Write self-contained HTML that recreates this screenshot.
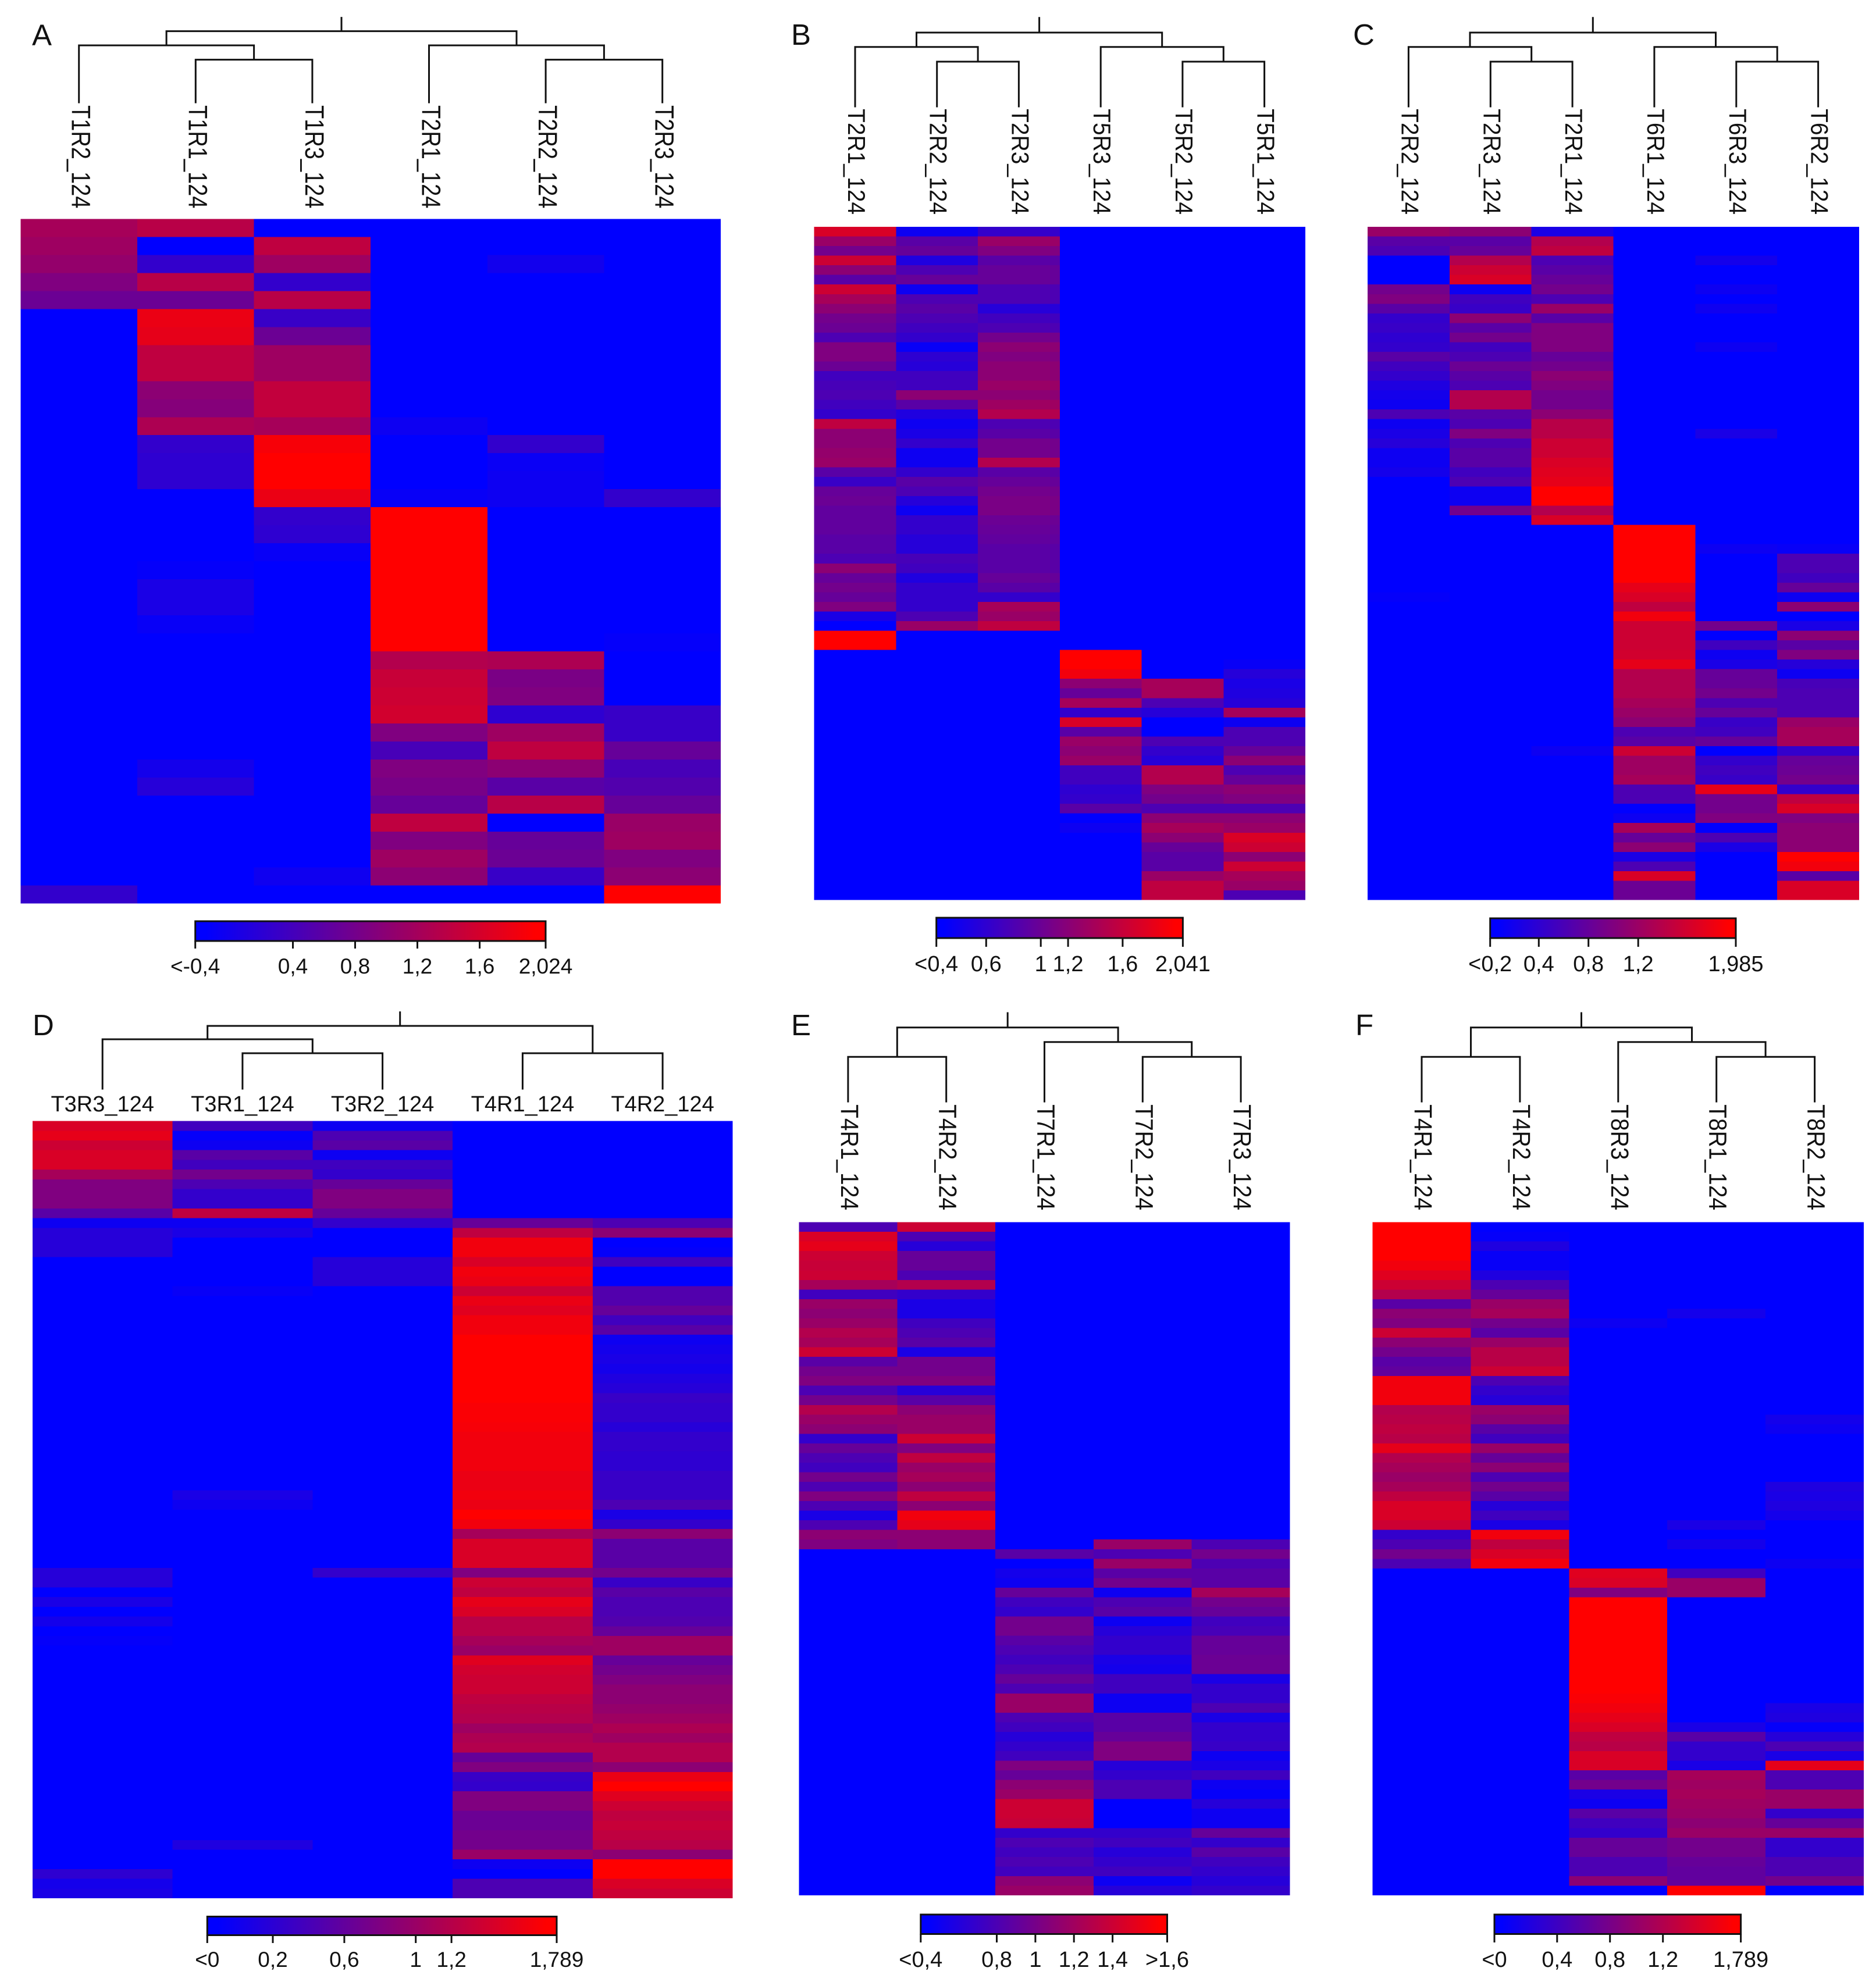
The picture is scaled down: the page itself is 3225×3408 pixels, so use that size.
<!DOCTYPE html>
<html lang="en">
<head>
<meta charset="utf-8">
<title>Heatmaps with dendrograms</title>
<style>
html,body{margin:0;padding:0;background:#fff;}
svg{display:block;}
text{font-family:"Liberation Sans",Arial,sans-serif;fill:#111;}
</style>
</head>
<body>
<svg id="figure" xmlns="http://www.w3.org/2000/svg" width="3225" height="3408" viewBox="0 0 3225 3408">
<defs>
<linearGradient id="blueRed" x1="0" x2="1" y1="0" y2="0">
<stop offset="0.03" stop-color="#0000ff"/>
<stop offset="0.97" stop-color="#ff0000"/>
</linearGradient>
</defs>
<rect x="0" y="0" width="3225" height="3408" fill="#ffffff"/>
</svg>
<script>
// Values are expression levels rescaled to percent of each panel's colour scale.
// ---------- Panel A ----------
const aColumns = ["T1R2_124","T1R1_124","T1R3_124","T2R1_124","T2R2_124","T2R3_124"];
const aT1R2 = [65,62,58,50,42,0,0,0,0,0,
 0,0,0,0,0,0,0,0,0,0,
 0,0,0,0,0,0,0,0,0,0,
 0,0,0,0,0,0,0,20];
const aT1R1 = [72,0,20,72,42,92,90,75,75,55,
 52,68,20,18,18,0,0,0,0,2,
 10,10,3,0,0,0,0,0,0,0,
 8,15,0,0,0,0,0,0];
const aT1R3 = [0,75,62,20,72,22,42,62,62,76,
 76,65,97,100,100,92,20,18,3,0,
 0,0,0,0,0,0,0,0,0,0,
 0,0,0,0,0,0,6,0];
const aT2R1 = [0,0,0,0,0,0,0,0,0,0,
 0,5,0,0,0,3,100,100,100,100,
 100,100,100,100,70,78,80,82,50,28,
 50,47,40,75,50,62,55,0];
const aT2R2 = [0,0,7,0,0,0,0,0,0,0,
 0,0,20,4,5,5,0,0,0,0,
 0,0,0,0,68,48,50,18,62,75,
 55,35,72,0,40,42,22,0];
const aT2R3 = [0,0,0,0,0,0,0,0,0,0,
 0,0,0,0,0,20,0,0,0,0,
 0,0,0,2,0,0,0,22,22,40,
 28,32,40,60,62,50,55,100];
const aTickValues = [-0.227,0.4,0.8,1.2,1.6,2.024];
const aTickLabels = ["<-0,4","0,4","0,8","1,2","1,6","2,024"];

// ---------- Panel B ----------
const bColumns = ["T2R1_124","T2R2_124","T2R3_124","T5R3_124","T5R2_124","T5R1_124"];
const bT2R1 = [85,60,45,80,55,35,80,65,55,45,
 42,30,50,50,42,25,28,30,25,20,
 75,55,55,58,60,35,22,40,42,38,
 38,38,35,35,30,55,40,45,40,50,
 10,0,100,100,0,0,0,0,0,0,
 0,0,0,0,0,0,0,0,0,0,
 0,0,0,0,0,0,0,0,0,0];
const bT2R2 = [5,35,40,12,30,40,5,30,35,30,
 25,20,3,18,15,25,25,55,35,12,
 5,10,20,5,5,20,35,30,15,5,
 20,20,15,15,28,25,12,20,20,20,
 30,60,0,0,0,0,0,0,0,0,
 0,0,0,0,0,0,0,0,0,0,
 0,0,0,0,0,0,0,0,0,0];
const bT2R3 = [20,60,50,35,40,40,30,30,15,25,
 30,45,55,50,55,55,60,55,62,70,
 30,35,45,45,70,35,40,45,48,48,
 42,40,38,35,35,35,40,35,20,65,
 60,75,0,0,0,0,0,0,0,0,
 0,0,0,0,0,0,0,0,0,0,
 0,0,0,0,0,0,0,0,0,0];
const bT5R3 = [0,0,0,0,0,0,0,0,0,0,
 0,0,0,0,0,0,0,0,0,0,
 0,0,0,0,0,0,0,0,0,0,
 0,0,0,0,0,0,0,0,0,0,
 0,0,0,0,100,100,95,55,40,65,
 20,85,35,60,55,60,25,25,18,20,
 35,0,5,0,0,0,0,0,0,0];
const bT5R2 = [0,0,0,0,0,0,0,0,0,0,
 0,0,0,0,0,0,0,0,0,0,
 0,0,0,0,0,0,0,0,0,0,
 0,0,0,0,0,0,0,0,0,0,
 0,0,0,0,0,0,0,65,65,30,
 15,0,0,30,20,15,70,70,50,45,
 30,55,65,55,40,35,35,60,75,75];
const bT5R1 = [0,0,0,0,0,0,0,0,0,0,
 0,0,0,0,0,0,0,0,0,0,
 0,0,0,0,0,0,0,0,0,0,
 0,0,0,0,0,0,0,0,0,0,
 0,0,0,0,0,3,15,10,12,15,
 65,5,30,30,40,55,30,40,55,50,
 30,55,60,85,80,55,80,65,60,30];
const bTickValues = [0.235,0.6,1,1.2,1.6,2.041];
const bTickLabels = ["<0,4","0,6","1","1,2","1,6","2,041"];

// ---------- Panel C ----------
const cColumns = ["T2R2_124","T2R3_124","T2R1_124","T6R1_124","T6R3_124","T6R2_124"];
const cT2R2 = [60,35,30,0,0,0,45,50,35,20,
 22,18,20,35,25,20,12,8,5,30,
 5,10,15,5,5,8,0,0,0,0,
 0,0,0,0,0,0,0,0,2,0,
 0,0,0,0,0,0,0,0,0,0,
 0,0,0,0,0,0,0,0,0,0,
 0,0,0,0,0,0,0,0,0,0];
const cT2R3 = [55,35,40,70,80,85,5,25,22,55,
 35,45,25,30,42,35,30,70,70,35,
 30,50,30,35,35,25,30,5,5,45,
 0,0,0,0,0,0,0,0,0,0,
 0,0,0,0,0,0,0,0,0,0,
 0,0,0,0,0,0,0,0,0,0,
 0,0,0,0,0,0,0,0,0,0];
const cT2R1 = [10,70,75,30,35,40,45,30,60,35,
 50,50,50,40,45,55,50,45,45,55,
 72,72,80,80,85,88,90,100,100,70,
 85,0,0,0,0,0,0,0,0,0,
 0,0,0,0,0,0,0,0,0,0,
 0,0,0,0,5,0,0,0,0,0,
 0,0,0,0,0,0,0,0,0,0];
const cT6R1 = [0,0,0,0,0,0,0,0,0,0,
 0,0,0,0,0,0,0,0,0,0,
 0,0,0,0,0,0,0,0,0,0,
 0,100,100,100,100,100,100,90,85,75,
 95,80,80,80,82,90,70,70,70,65,
 60,55,30,35,80,62,62,65,30,30,
 0,5,65,40,55,10,30,85,42,42];
const cT6R3 = [0,0,0,8,0,0,5,0,6,0,
 0,0,5,0,0,0,0,0,0,0,
 0,10,0,0,0,0,0,0,0,0,
 0,0,0,5,0,0,0,0,0,0,
 0,45,0,25,5,10,40,40,45,30,
 40,22,25,40,0,20,25,22,90,45,
 45,50,0,30,10,0,0,0,0,0];
const cT6R2 = [0,0,0,0,0,0,0,0,0,0,
 0,0,0,0,0,0,0,0,0,0,
 0,0,0,0,0,0,0,0,0,0,
 0,0,0,3,30,30,25,40,5,55,
 0,10,55,35,50,15,5,28,30,30,
 30,60,65,65,20,40,42,45,20,75,
 85,50,55,55,55,100,95,35,85,85];
const cTickValues = [0.009,0.4,0.8,1.2,1.985];
const cTickLabels = ["<0,2","0,4","0,8","1,2","1,985"];

// ---------- Panel D ----------
const dColumns = ["T3R3_124","T3R1_124","T3R2_124","T4R1_124","T4R2_124"];
const dT3R3 = [85,90,80,85,85,65,50,50,50,35,
 5,15,15,15,0,0,0,0,0,0,
 0,0,0,0,0,0,0,0,0,0,
 0,0,0,0,0,0,0,0,0,0,
 0,0,0,0,0,0,15,15,0,10,
 0,8,0,2,0,0,0,0,0,0,
 0,0,0,0,0,0,0,0,0,0,
 0,0,0,0,0,0,0,18,8,10];
const dT3R1 = [25,2,5,35,25,45,30,20,20,75,
 5,10,0,0,0,0,0,3,0,0,
 0,0,0,0,0,0,0,0,0,0,
 0,0,0,0,0,0,0,0,10,5,
 0,0,0,0,0,0,0,0,0,0,
 0,0,0,0,0,0,0,0,0,0,
 0,0,0,0,0,0,0,0,0,0,
 0,0,0,0,12,0,0,0,0,0];
const dT3R2 = [5,30,35,5,25,20,40,50,50,40,
 20,0,0,0,15,15,15,0,0,0,
 0,0,0,0,0,0,0,0,0,0,
 0,0,0,0,0,0,0,0,0,0,
 0,0,0,0,0,0,20,0,0,0,
 0,0,0,0,0,0,0,0,0,0,
 0,0,0,0,0,0,0,0,0,0,
 0,0,0,0,0,0,0,0,0,0];
const dT4R1 = [0,0,0,0,0,0,0,0,0,0,
 40,75,95,95,85,95,92,80,92,88,
 95,95,100,100,100,100,100,100,100,98,
 98,97,95,95,95,95,92,92,95,92,
 100,95,65,85,85,85,50,80,75,90,
 85,72,72,65,60,88,82,80,80,75,
 72,70,62,68,70,40,50,22,20,50,
 50,42,42,45,45,60,5,0,30,30];
const dT4R2 = [0,0,0,0,0,0,0,0,0,0,
 30,55,0,2,25,0,0,32,32,40,
 25,35,5,8,10,8,12,15,22,20,
 20,15,20,20,18,18,22,22,22,30,
 10,20,55,35,35,35,45,22,35,30,
 30,32,40,62,62,40,45,50,55,55,
 58,62,68,62,70,70,55,92,100,88,
 80,75,78,75,72,55,100,100,85,80];
const dTickValues = [-0.167,0.2,0.6,1,1.2,1.789];
const dTickLabels = ["<0","0,2","0,6","1","1,2","1,789"];

// ---------- Panel E ----------
const eColumns = ["T4R1_124","T4R2_124","T7R1_124","T7R2_124","T7R3_124"];
const eT4R1 = [30,85,90,80,78,80,65,25,60,55,
 60,70,65,80,35,45,50,30,45,70,
 60,55,20,40,30,25,45,30,50,30,
 10,30,55,50,0,0,0,0,0,0,
 0,0,0,0,0,0,0,0,0,0,
 0,0,0,0,0,0,0,0,0,0,
 0,0,0,0,0,0,0,0,0,0];
const eT4R2 = [80,30,15,40,40,30,70,20,10,10,
 25,30,35,10,45,45,50,15,35,55,
 60,60,80,50,75,60,65,55,75,55,
 95,90,55,55,0,0,0,0,0,0,
 0,0,0,0,0,0,0,0,0,0,
 0,0,0,0,0,0,0,0,0,0,
 0,0,0,0,0,0,0,0,0,0];
const eT7R1 = [0,0,0,0,0,0,0,0,0,0,
 0,0,0,0,0,0,0,0,0,0,
 0,0,0,0,0,0,0,0,0,0,
 0,0,0,0,35,0,8,5,40,25,
 20,45,45,35,30,25,30,40,30,60,
 60,30,25,15,20,25,50,40,55,60,
 80,80,78,20,30,25,30,25,55,60];
const eT7R2 = [0,0,0,0,0,0,0,0,0,0,
 0,0,0,0,0,0,0,0,0,0,
 0,0,0,0,0,0,0,0,0,0,
 0,0,0,60,30,60,35,45,5,30,
 35,5,15,20,20,10,8,25,25,5,
 5,35,35,40,50,50,15,20,30,30,
 0,0,0,20,25,15,20,25,5,15];
const eT7R3 = [0,0,0,0,0,0,0,0,0,0,
 0,0,0,0,0,0,0,0,0,0,
 0,0,0,0,0,0,0,0,0,0,
 0,0,0,30,45,30,35,35,65,45,
 40,25,28,40,40,42,42,10,20,20,
 30,10,20,20,22,5,10,25,5,2,
 15,5,5,40,20,35,25,20,15,20];
const eTickValues = [0.406,0.8,1,1.2,1.4,1.683];
const eTickLabels = ["<0,4","0,8","1","1,2","1,4",">1,6"];

// ---------- Panel F ----------
const fColumns = ["T4R1_124","T4R2_124","T8R3_124","T8R1_124","T8R2_124"];
const fT4R1 = [100,100,100,100,95,88,80,70,35,55,
 50,80,55,45,35,38,95,95,95,70,
 72,75,72,90,70,65,60,65,75,85,
 85,80,20,30,45,30,0,0,0,0,
 0,0,0,0,0,0,0,0,0,0,
 0,0,0,0,0,0,0,0,0,0,
 0,0,0,0,0,0,0,0,0,0];
const fT4R2 = [0,2,12,3,3,12,30,40,60,65,
 45,35,60,72,72,80,30,20,15,60,
 55,35,25,60,40,55,30,45,35,15,
 25,10,95,75,85,95,0,0,0,0,
 0,0,0,0,0,0,0,0,0,0,
 0,0,0,0,0,0,0,0,0,0,
 0,0,0,0,0,0,0,0,0,0];
const fT8R3 = [0,0,0,0,0,0,0,0,0,0,
 5,0,0,0,0,0,0,0,0,0,
 0,0,0,0,0,0,0,0,0,0,
 0,0,0,0,0,0,88,85,50,100,
 100,100,100,100,100,100,100,100,100,98,
 95,90,85,75,72,85,85,35,45,10,
 5,35,25,20,40,40,30,30,55,0];
const fT8R1 = [0,0,0,0,0,0,0,0,0,8,
 0,0,0,0,0,0,0,0,0,0,
 0,0,0,0,0,0,0,0,0,0,
 0,10,0,8,0,0,25,60,60,0,
 0,0,0,0,0,0,0,0,0,0,
 0,0,10,35,20,20,10,65,62,65,
 62,60,55,60,45,45,40,38,38,100];
const fT8R2 = [0,0,0,0,0,0,0,0,0,0,
 0,0,0,0,0,0,0,0,0,0,
 8,5,0,0,0,0,0,12,10,12,
 8,0,0,0,0,5,0,0,0,0,
 0,0,0,0,0,0,0,0,0,0,
 10,12,2,15,30,10,90,30,30,60,
 60,20,40,60,20,20,30,30,45,0];
const fTickValues = [-0.074,0.4,0.8,1.2,1.789];
const fTickLabels = ["<0","0,4","0,8","1,2","1,789"];

// Layout of each panel (frame geometry) and its data references.
const panels = [
 {id:"a",letter:"A",lx:55,ly:78,columns:aColumns,series:[aT1R2,aT1R1,aT1R3,aT2R1,aT2R2,aT2R3],
  x:35.4,w:1203.6,top:376.5,h:1177.2,tree:[[0,[1,2]],[3,[4,5]]],
  rootTop:30.6,lv1:53.6,lv2:78,lv3:102.6,leafEnd:176,
  label:{mode:"v",start:181,size:38,sy:1.2},
  bar:{x:335.7,w:602.3,y:1584,h:34,tickEnd:1631,base:1674,size:37},ticks:aTickValues,tickLabels:aTickLabels},
 {id:"b",letter:"B",lx:1360,ly:77,columns:bColumns,series:[bT2R1,bT2R2,bT2R3,bT5R3,bT5R2,bT5R1],
  x:1399.6,w:844.4,top:390,h:1157.5,tree:[[0,[1,2]],[3,[4,5]]],
  rootTop:30.7,lv1:56,lv2:80.7,lv3:106,leafEnd:183,
  label:{mode:"v",start:187,size:39,sy:1.07},
  bar:{x:1609.7,w:423.7,y:1578,h:35,tickEnd:1628,base:1670,size:38},ticks:bTickValues,tickLabels:bTickLabels},
 {id:"c",letter:"C",lx:2326,ly:77,columns:cColumns,series:[cT2R2,cT2R3,cT2R1,cT6R1,cT6R3,cT6R2],
  x:2351,w:845,top:390,h:1157.5,tree:[[0,[1,2]],[3,[4,5]]],
  rootTop:30.7,lv1:56,lv2:80.7,lv3:106,leafEnd:183,
  label:{mode:"v",start:187,size:39,sy:1.07},
  bar:{x:2561.7,w:422.3,y:1579,h:34,tickEnd:1628,base:1670,size:38},ticks:cTickValues,tickLabels:cTickLabels},
 {id:"d",letter:"D",lx:56,ly:1780,columns:dColumns,series:[dT3R3,dT3R1,dT3R2,dT4R1,dT4R2],
  x:55.8,w:1203.7,top:1927.6,h:1336.4,tree:[[0,[1,2]],[3,4]],
  rootTop:1740.6,lv1:1764,lv2:1787,lv3:1811,leafEnd:1872,
  label:{mode:"h",base:1911,size:38},
  bar:{x:356.3,w:600.7,y:3295.5,h:32,tickEnd:3341,base:3382,size:37},ticks:dTickValues,tickLabels:dTickLabels},
 {id:"e",letter:"E",lx:1360,ly:1780,columns:eColumns,series:[eT4R1,eT4R2,eT7R1,eT7R2,eT7R3],
  x:1373.5,w:844,top:2101.6,h:1157.4,tree:[[0,1],[2,[3,4]]],
  rootTop:1742,lv1:1766.7,lv2:1791.7,lv3:1817.3,leafEnd:1894,
  label:{mode:"v",start:1899,size:39,sy:1.1},
  bar:{x:1582.8,w:423.7,y:3292,h:33.5,tickEnd:3340,base:3382,size:38},ticks:eTickValues,tickLabels:eTickLabels},
 {id:"f",letter:"F",lx:2330,ly:1780,columns:fColumns,series:[fT4R1,fT4R2,fT8R3,fT8R1,fT8R2],
  x:2359.6,w:844.4,top:2101.6,h:1157.4,tree:[[0,1],[2,[3,4]]],
  rootTop:1742,lv1:1766.7,lv2:1791.7,lv3:1817.3,leafEnd:1894,
  label:{mode:"v",start:1899,size:39,sy:1.1},
  bar:{x:2569,w:423.6,y:3292,h:33.5,tickEnd:3340,base:3382,size:38},ticks:fTickValues,tickLabels:fTickLabels}
];

const NS = "http://www.w3.org/2000/svg";
const figure = document.getElementById("figure");

function make(tag, attrs, parent){
  const el = document.createElementNS(NS, tag);
  for (const k in attrs) el.setAttribute(k, attrs[k]);
  parent.appendChild(el);
  return el;
}
function heatColor(pct){
  const t = Math.max(0, Math.min(1, (pct || 0) / 100));
  return "rgb(" + Math.round(255 * t) + ",0," + Math.round(255 * (1 - t)) + ")";
}
function leafCount(node){
  return Array.isArray(node) ? leafCount(node[0]) + leafCount(node[1]) : 1;
}

panels.forEach(function(p){
  const g = make("g", {}, figure);
  
  

  // axis functions
  const nCols = p.columns.length;
  const nRows = p.series[0].length;
  const colW = p.w / nCols;
  const rowH = p.h / nRows;
  const colX = function(j){ return p.x + j * colW; };
  const colCenter = function(j){ return p.x + (j + 0.5) * colW; };
  const rowY = function(i){ return p.top + i * rowH; };

  // panel letter
  const letter = make("text", {x:p.lx, y:p.ly, "font-size":51}, g);
  letter.textContent = p.letter;
  
  

  // heatmap cells
  const heat = make("g", {"shape-rendering":"crispEdges"}, g);
  
  
  p.series.forEach(function(values, j){
    for (let i = 0; i < nRows; i++){
      const cell = make("rect", {
        x: colX(j).toFixed(1),
        y: rowY(i).toFixed(1),
        width: (colW + (j < nCols - 1 ? 0.5 : 0)).toFixed(1),
        height: (rowH + (i < nRows - 1 ? 0.6 : 0)).toFixed(1),
        fill: heatColor(values[i])
      }, heat);
      
      
    }
  });

  // dendrogram
  const dendro = make("g", {fill:"none", stroke:"#111", "stroke-width":3, "stroke-linecap":"square"}, g);
  
  
  let d = "";
  function nodeLevel(n){
    const c = leafCount(n);
    if (c === 2) return p.lv3;
    if (c === 3) return p.lv2;
    return p.lv1;
  }
  function walk(node){
    if (!Array.isArray(node)) return {x: colCenter(node), y: p.leafEnd};
    const a = walk(node[0]), b = walk(node[1]);
    const y = nodeLevel(node);
    d += "M" + a.x.toFixed(1) + " " + a.y.toFixed(1) + "V" + y + "H" + b.x.toFixed(1) + "V" + b.y.toFixed(1);
    return {x: (a.x + b.x) / 2, y: y};
  }
  const root = walk(p.tree);
  d += "M" + root.x.toFixed(1) + " " + root.y + "V" + p.rootTop;
  make("path", {d: d}, dendro);

  // column labels
  p.columns.forEach(function(name, j){
    let t;
    if (p.label.mode === "v"){
      t = make("text", {
        transform: "translate(" + (colCenter(j) - 12).toFixed(1) + " " + p.label.start + ") rotate(90) scale(1 " + p.label.sy + ")",
        "font-size": p.label.size
      }, g);
    } else {
      t = make("text", {x: colCenter(j).toFixed(1), y: p.label.base, "font-size": p.label.size, "text-anchor": "middle"}, g);
    }
    t.textContent = name;
    
    
  });

  // colour key
  const key = make("g", {}, g);
  
  
  const keyBar = make("rect", {x:p.bar.x, y:p.bar.y, width:p.bar.w, height:p.bar.h, fill:"url(#blueRed)", stroke:"#111", "stroke-width":3}, key);
  
  
  const vMin = p.ticks[0], vMax = p.ticks[p.ticks.length - 1];
  const keyX = function(v){ return p.bar.x + (v - vMin) / (vMax - vMin) * p.bar.w; };
  p.ticks.forEach(function(v, k){
    const tick = make("line", {x1:keyX(v).toFixed(1), x2:keyX(v).toFixed(1), y1:p.bar.y + p.bar.h, y2:p.bar.tickEnd, stroke:"#111", "stroke-width":3}, key);
    
    
    const lab = make("text", {x:keyX(v).toFixed(1), y:p.bar.base, "font-size":p.bar.size, "text-anchor":"middle"}, key);
    lab.textContent = p.tickLabels[k];
    
    
  });
});
</script>
</body>
</html>
